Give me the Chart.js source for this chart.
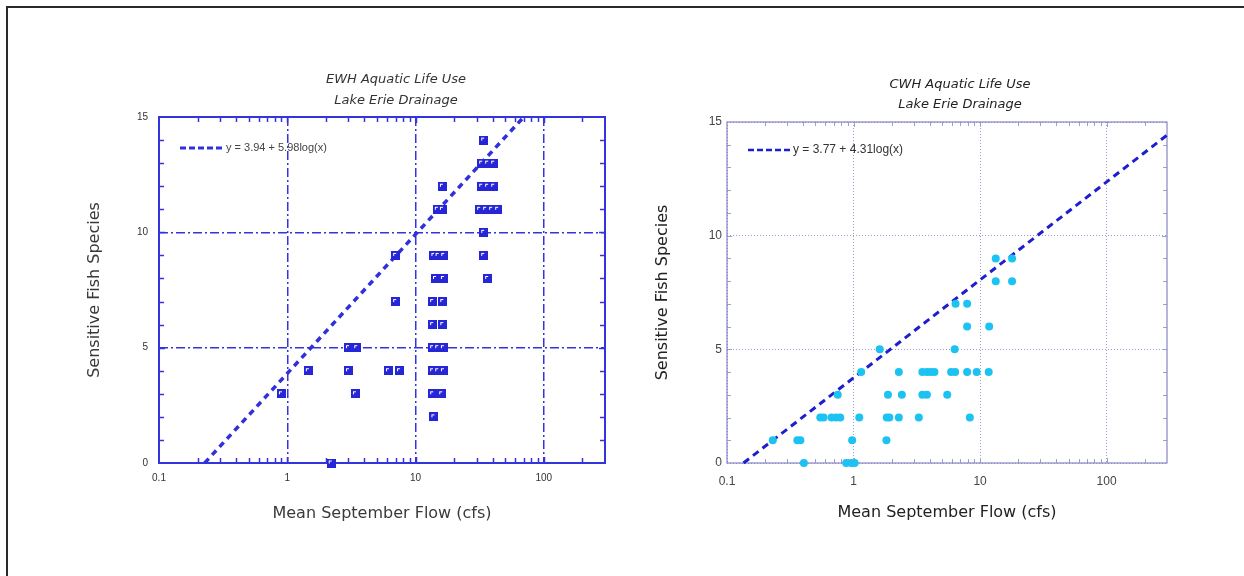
<!DOCTYPE html>
<html><head><meta charset="utf-8">
<script src="https://cdn.jsdelivr.net/npm/chart.js@4.4.1/dist/chart.umd.min.js"></script>
<style>
html,body{margin:0;padding:0;background:#fff;width:1244px;height:576px;overflow:hidden;position:relative}
#frame{position:absolute;left:6px;top:6px;width:1260px;height:620px;border-top:2px solid #2a2a2a;border-left:2px solid #2a2a2a;}
canvas{position:absolute;top:0}
#c1{left:0}
#c2{left:622px}
</style></head><body>
<div id="frame"></div>
<canvas id="c1" width="622" height="576"></canvas>
<canvas id="c2" width="622" height="576"></canvas>
<script>
// ---------- data ----------
const flowTicks = [0.1, 1, 10, 100];
const speciesTicks = [0, 5, 10, 15];

const ewhTitle = ['EWH Aquatic Life Use', 'Lake Erie Drainage'];
const cwhTitle = ['CWH Aquatic Life Use', 'Lake Erie Drainage'];
const ewhEquation = 'y = 3.94 + 5.98log(x)';
const cwhEquation = 'y = 3.77 + 4.31log(x)';

const ewhFlow = [0.90, 1.46, 2.2, 3.0, 3.48, 3.0, 3.4, 6.15, 7.5, 7.0, 7.0,
  13.9, 13.6, 16.0, 13.6, 14.9, 16.5, 13.6, 14.9, 16.5, 13.6, 16.3, 13.6, 16.3,
  14.3, 16.5, 13.9, 15.0, 16.6, 14.8, 16.2, 16.2,
  34.0, 32.8, 36.5, 40.7, 32.8, 36.5, 40.7, 31.6, 35.2, 39.2, 43.7, 34.0, 34.0, 36.5];
const ewhSpecies = [3, 4, 0, 5, 5, 4, 3, 4, 4, 7, 9,
  2, 3, 3, 4, 4, 4, 5, 5, 5, 6, 6, 7, 7,
  8, 8, 9, 9, 9, 11, 11, 12,
  14, 13, 13, 13, 12, 12, 12, 11, 11, 11, 11, 10, 9, 8];
const ewhFitFlow = [0.227, 69.8];
const ewhFitSpecies = [0, 15];

const cwhFlow = [13.3, 17.9, 13.3, 17.9, 6.4, 7.9, 7.9, 11.8, 1.61, 6.3,
  1.15, 2.28, 3.5, 3.8, 4.08, 4.36, 5.9, 6.35, 7.9, 9.4, 11.7,
  0.75, 1.87, 2.41, 3.5, 3.8, 5.5,
  0.546, 0.58, 0.67, 0.73, 0.785, 1.11, 1.83, 1.92, 2.28, 3.28, 8.3,
  0.23, 0.36, 0.38, 0.975, 1.82,
  0.405, 0.875, 0.96, 1.02];
const cwhSpecies = [9, 9, 8, 8, 7, 7, 6, 6, 5, 5,
  4, 4, 4, 4, 4, 4, 4, 4, 4, 4, 4,
  3, 3, 3, 3, 3, 3,
  2, 2, 2, 2, 2, 2, 2, 2, 2, 2, 2,
  1, 1, 1, 1, 1,
  0, 0, 0, 0];
const cwhFitFlow = [0.135, 300];
const cwhFitSpecies = [0, 14.42];

// ---------- helpers ----------
const zip = (xs, ys) => xs.map((x, i) => ({x: x, y: ys[i]}));

function squareMarker() {
  const c = document.createElement('canvas');
  c.width = 9; c.height = 9;
  const g = c.getContext('2d');
  g.fillStyle = '#2626d6'; g.fillRect(0, 0, 9, 9);
  g.fillStyle = '#ffffff'; g.fillRect(2, 2, 3, 1); g.fillRect(2, 3, 1, 2);
  return c;
}

function decorPlugin(o) {
  return {
    id: 'decor',
    beforeDatasetsDraw(chart) {
      const {ctx, chartArea: a, scales: {x, y}} = chart;
      ctx.save();
      ctx.strokeStyle = o.tickColor;
      ctx.lineWidth = o.tickWidth;
      ctx.beginPath();
      flowTicks.forEach(d => {
        for (let k = 1; k <= 9; k++) {
          const v = d * k;
          if (v <= 0.1 || v >= 300) continue;
          const px = Math.round(x.getPixelForValue(v)) + 0.5;
          const L = k === 1 ? o.majorLen : o.minorLen;
          ctx.moveTo(px, a.bottom); ctx.lineTo(px, a.bottom - L);
          ctx.moveTo(px, a.top); ctx.lineTo(px, a.top + L);
        }
      });
      for (let v = 1; v < 15; v++) {
        const py = Math.round(y.getPixelForValue(v)) + 0.5;
        const L = v % 5 === 0 ? o.majorLen : o.minorLen;
        ctx.moveTo(a.left, py); ctx.lineTo(a.left + L, py);
        ctx.moveTo(a.right, py); ctx.lineTo(a.right - L, py);
      }
      ctx.stroke();
      ctx.strokeStyle = o.frameColor;
      ctx.lineWidth = o.frameWidth;
      ctx.strokeRect(a.left, a.top, a.right - a.left, a.bottom - a.top);
      ctx.restore();
    },
    afterDraw(chart) {
      const ctx = chart.ctx;
      ctx.save();
      ctx.fillStyle = o.titleColor;
      ctx.font = o.titleFont;
      ctx.textAlign = 'center';
      ctx.textBaseline = 'middle';
      o.title.forEach((t, i) => ctx.fillText(t, o.titleX, o.titleY[i]));
      ctx.strokeStyle = o.lineColor;
      ctx.lineWidth = o.lineWidth;
      ctx.setLineDash(o.lineDash);
      ctx.beginPath();
      ctx.moveTo(o.legX0, o.legY); ctx.lineTo(o.legX1, o.legY);
      ctx.stroke();
      ctx.setLineDash([]);
      ctx.fillStyle = o.legColor;
      ctx.font = o.legFont;
      ctx.textAlign = 'left';
      ctx.fillText(o.equation, o.legX1 + 3, o.legY);
      ctx.restore();
    }
  };
}

function makeScales(o) {
  return {
    x: {
      type: 'logarithmic', min: 0.1, max: 300,
      afterBuildTicks: s => { s.ticks = flowTicks.map(v => ({value: v})); },
      afterFit: s => { s.height = 113; },
      ticks: {autoSkip: false, maxRotation: 0, padding: o.xTickPad, color: o.tickLabelColor,
              font: o.tickFont, callback: v => String(v)},
      grid: {drawTicks: false, color: o.gridColor, lineWidth: o.gridWidth},
      border: {display: false, dash: o.gridDash},
      title: {display: true, text: 'Mean September Flow (cfs)', color: o.axisTitleColor,
              font: {family: 'DejaVu Sans', size: 16}, padding: {top: 0, bottom: o.xTitlePad}}
    },
    y: {
      type: 'linear', min: 0, max: 15,
      afterBuildTicks: s => { s.ticks = speciesTicks.map(v => ({value: v})); },
      afterFit: s => { s.width = o.yWidth; },
      ticks: {padding: o.yTickPad, color: o.tickLabelColor, font: o.tickFont},
      grid: {drawTicks: false, color: o.gridColor, lineWidth: o.gridWidth},
      border: {display: false, dash: o.gridDash},
      title: {display: true, text: 'Sensitive Fish Species', color: o.axisTitleColor,
              font: {family: 'DejaVu Sans', size: 16}, padding: {top: o.yTitlePad, bottom: 0}}
    }
  };
}

// ---------- left chart (EWH) ----------
new Chart(document.getElementById('c1'), {
  type: 'scatter',
  data: {
    datasets: [
      {data: zip(ewhFlow, ewhSpecies), pointStyle: squareMarker(), pointRadius: 4, clip: false},
      {data: zip(ewhFitFlow, ewhFitSpecies), showLine: true, borderColor: '#3030dc', borderWidth: 3.5,
       borderDash: [6, 5], pointRadius: 0, clip: false, fill: false}
    ]
  },
  options: {
    responsive: false, animation: false,
    layout: {padding: {left: 0, top: 117, right: 17, bottom: 0}},
    plugins: {legend: {display: false}, tooltip: {enabled: false}, title: {display: false}},
    scales: makeScales({
      xTickPad: 9, yTickPad: 11, tickLabelColor: '#333', tickFont: {family: 'Liberation Sans', size: 10},
      gridColor: '#3434de', gridWidth: 1.5, gridDash: [9, 3, 2, 3],
      axisTitleColor: '#3a3a3a', xTitlePad: 52.4, yWidth: 159, yTitlePad: 85.4
    })
  },
  plugins: [decorPlugin({
    tickColor: '#3434de', tickWidth: 1.5, majorLen: 6, minorLen: 5,
    frameColor: '#3434de', frameWidth: 2,
    title: ewhTitle, titleX: 396, titleY: [80, 101], titleColor: '#333',
    titleFont: 'italic 13px "DejaVu Sans"',
    lineColor: '#3030dc', lineWidth: 3, lineDash: [6, 3],
    legX0: 180, legX1: 223, legY: 148, legColor: '#444', legFont: '11px "Liberation Sans"',
    equation: ewhEquation
  })]
});

// ---------- right chart (CWH) ----------
new Chart(document.getElementById('c2'), {
  type: 'scatter',
  data: {
    datasets: [
      {data: zip(cwhFlow, cwhSpecies), pointStyle: 'circle', pointRadius: 4,
       backgroundColor: '#1cc3f2', borderColor: '#1cc3f2', borderWidth: 0, clip: false},
      {data: zip(cwhFitFlow, cwhFitSpecies), showLine: true, borderColor: '#1e1ed0', borderWidth: 3,
       borderDash: [7, 5], pointRadius: 0, clip: false, fill: false}
    ]
  },
  options: {
    responsive: false, animation: false,
    layout: {padding: {left: 0, top: 122, right: 77, bottom: 0}},
    plugins: {legend: {display: false}, tooltip: {enabled: false}, title: {display: false}},
    scales: makeScales({
      xTickPad: 11, yTickPad: 5, tickLabelColor: '#444', tickFont: {family: 'Liberation Sans', size: 12},
      gridColor: '#9a9ad0', gridWidth: 1, gridDash: [1, 2],
      axisTitleColor: '#222', xTitlePad: 53.4, yWidth: 105, yTitlePad: 31.4
    })
  },
  plugins: [decorPlugin({
    tickColor: '#a0a0d0', tickWidth: 1, majorLen: 5, minorLen: 4,
    frameColor: '#8484c8', frameWidth: 1.2,
    title: cwhTitle, titleX: 338, titleY: [85, 105], titleColor: '#222',
    titleFont: 'italic 13px "DejaVu Sans"',
    lineColor: '#1e1ed0', lineWidth: 2.5, lineDash: [6, 3],
    legX0: 126, legX1: 168, legY: 150, legColor: '#333', legFont: '12px "Liberation Sans"',
    equation: cwhEquation
  })]
});
</script>
</body></html>
